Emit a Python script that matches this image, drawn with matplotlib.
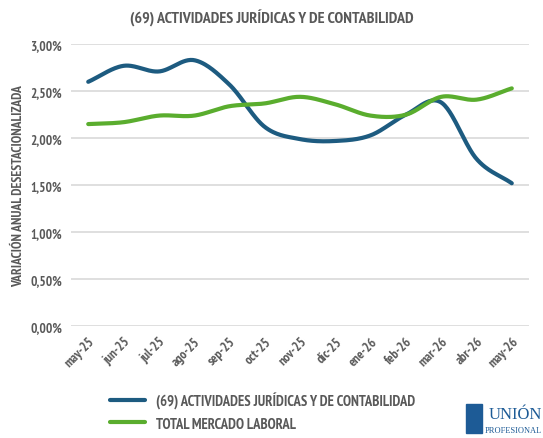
import matplotlib
matplotlib.use('Agg')
import matplotlib.pyplot as plt
import numpy as np
from matplotlib.ticker import FuncFormatter

months = ['may-25', 'jun-25', 'jul-25', 'ago-25', 'sep-25', 'oct-25', 'nov-25',
          'dic-25', 'ene-26', 'feb-26', 'mar-26', 'abr-26', 'may-26']
juridicas = [2.60, 2.77, 2.71, 2.83, 2.57, 2.12, 1.99, 1.97, 2.03, 2.25, 2.38, 1.78, 1.52]
totalMercado = [2.15, 2.17, 2.24, 2.24, 2.34, 2.37, 2.44, 2.36, 2.24, 2.25, 2.44, 2.41, 2.53]
seriesNames = ['(69) ACTIVIDADES JURÍDICAS Y DE CONTABILIDAD', 'TOTAL MERCADO LABORAL']

grey = '#595959'
narrow = ['PT Sans Narrow', 'Roboto Condensed', 'Liberation Sans', 'DejaVu Sans']


def smoothLine(xs, ys, steps=30):
    # catmull-rom like excel smoothed lines
    xs = np.asarray(xs, float)
    ys = np.asarray(ys, float)
    px = np.concatenate([[2 * xs[0] - xs[1]], xs, [2 * xs[-1] - xs[-2]]])
    py = np.concatenate([[2 * ys[0] - ys[1]], ys, [2 * ys[-1] - ys[-2]]])
    outX, outY = [], []
    t = np.linspace(0, 1, steps)
    for i in range(1, len(px) - 2):
        for p, out in ((px, outX), (py, outY)):
            p0, p1, p2, p3 = p[i - 1], p[i], p[i + 1], p[i + 2]
            c1 = p1 + (p2 - p0) / 6
            c2 = p2 - (p3 - p1) / 6
            out.extend((1 - t) ** 3 * p1 + 3 * (1 - t) ** 2 * t * c1 + 3 * (1 - t) * t ** 2 * c2 + t ** 3 * p2)
    return np.array(outX), np.array(outY)


fig = plt.figure(figsize=(5.43, 4.39), dpi=100)
ax = fig.add_axes([0.13, 0.255, 0.845, 0.642])

x = np.arange(len(months))
lines = []
for values, color in ((juridicas, '#1d5b80'), (totalMercado, '#5aad2e')):
    sx, sy = smoothLine(x, values)
    line, = ax.plot(sx, sy, color=color, lw=3, solid_capstyle='round')
    lines.append(line)

ax.set_ylim(0, 3.0)
ax.set_xlim(-0.5, len(months) - 0.5)
ax.set_yticks(np.arange(0, 3.01, 0.5))
ax.yaxis.set_major_formatter(FuncFormatter(lambda v, p: ('%.2f%%' % v).replace('.', ',')))
ax.set_xticks(x)
ax.set_xticklabels(months, rotation=45, ha='right', rotation_mode='anchor')
ax.grid(axis='y', color='#d9d9d9', lw=1.2)
ax.set_axisbelow(True)
for s in ax.spines.values():
    s.set_visible(False)
ax.tick_params(length=0, pad=6, colors=grey)
for lbl in ax.get_xticklabels() + ax.get_yticklabels():
    lbl.set_fontfamily(narrow)
    lbl.set_fontweight('bold')
    lbl.set_fontsize(9.5)
    lbl.set_color(grey)

ax.set_ylabel('VARIACIÓN ANUAL DESESTACIONALIZADA', fontsize=9.8, fontweight='bold',
              color=grey, family=narrow, labelpad=4)

fig.text(0.5, 0.958, '(69) ACTIVIDADES JURÍDICAS Y DE CONTABILIDAD', ha='center', va='center',
         fontsize=11.5, fontweight='bold', color=grey, family=narrow)

leg = fig.legend(lines, seriesNames, loc='upper left', bbox_to_anchor=(0.178, 0.136),
                 frameon=False, handlelength=2.4, labelspacing=0.55, prop={'family': narrow,
                 'weight': 'bold', 'size': 10.5})
for t in leg.get_texts():
    t.set_color(grey)

# logo
fig.text(0.998, 0.036, 'UNIÓN', fontsize=12, color='#1d5b96', family='Liberation Serif',
         ha='right', va='bottom')
fig.text(0.998, 0.008, 'PROFESIONAL', fontsize=6, color='#1d5b96', family='Liberation Serif',
         ha='right', va='bottom')
fig.patches.append(plt.Rectangle((0.858, 0.012), 0.03, 0.065, transform=fig.transFigure,
                                 color='#1d5b96', figure=fig))

fig.savefig('out.png', dpi=100)
